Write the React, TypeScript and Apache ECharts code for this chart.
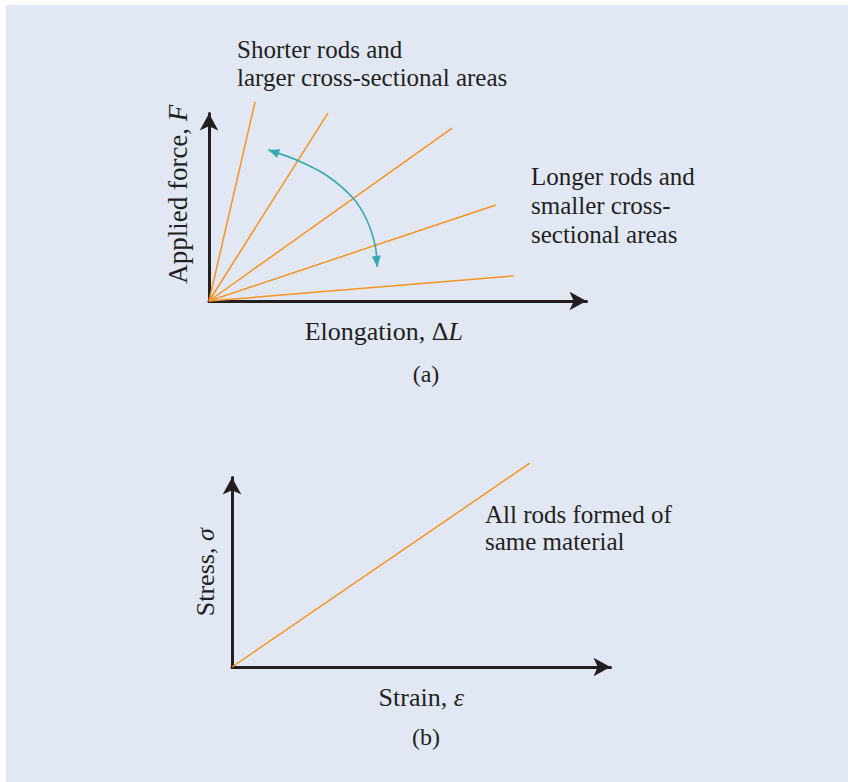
import React, { useEffect, useRef } from "react";
import * as echarts from "echarts";

// ---- Data (arbitrary units; x 0..10, y 0..5) ----
// (a) Applied force vs elongation: end points of five rods' lines (all start at origin)
const rodEndX = [1.22, 3.15, 6.44, 7.6, 8.08];
const rodEndY = [5.31, 5.01, 4.61, 2.56, 0.67];
// curved double-headed arrow across the rod lines
const arcX = [1.57, 2.32, 3.1, 3.82, 4.18, 4.4, 4.46];
const arcY = [4.03, 3.76, 3.36, 2.74, 2.16, 1.49, 0.91];
// (b) Stress vs strain: single line for all rods
const strainX = [0, 7.87];
const stressY = [0, 5.38];

const xMax = 10;
const yMax = 5;

const FONT = "Liberation Serif";
const INK = "#231f20";
const ORANGE = "#f7931e";
const TEAL = "#35a8b0";
const BG = "#e1e8f4";

function axisCommon() {
  return {
    min: 0,
    axisLine: {
      show: true,
      symbol: ["none", "arrow"],
      symbolSize: [14, 17],
      lineStyle: { color: INK, width: 3 },
    },
    axisTick: { show: false },
    axisLabel: { show: false },
    splitLine: { show: false },
  };
}

const makeName = (size: number) => ({
  fontFamily: FONT,
  fontSize: size,
  color: INK,
  rich: {
    i: { fontFamily: FONT, fontSize: size, fontStyle: "italic", color: INK },
  },
});

export default function App() {
  const ref = useRef<HTMLDivElement>(null);
  useEffect(() => {
    if (!ref.current) return;
    const chart = echarts.init(ref.current, undefined, { renderer: "svg" });

    const rodSeries = rodEndX.map((x, i) => ({
      type: "line",
      xAxisIndex: 0,
      yAxisIndex: 0,
      data: [
        [0, 0],
        [x, rodEndY[i]],
      ],
      symbol: "none",
      clip: false,
      lineStyle: { color: ORANGE, width: 1.5 },
      z: 1,
    }));

    const arrowHead = (tip: number[], from: number[]) => {
      const dx = tip[0] - from[0];
      const dy = tip[1] - from[1];
      const len = Math.hypot(dx, dy) || 1;
      const ux = dx / len;
      const uy = dy / len;
      const L = 11;
      const W = 4.5;
      const bx = tip[0] - ux * L;
      const by = tip[1] - uy * L;
      return [
        [tip[0], tip[1]],
        [bx - uy * W, by + ux * W],
        [bx + uy * W, by - ux * W],
      ];
    };

    const textStyle = (text: string, lineHeight: number, size = 25) => ({
      text,
      fontFamily: FONT,
      fontSize: size,
      lineHeight,
      fill: INK,
    });

    const option: any = {
      animation: false,
      backgroundColor: "#ffffff",
      textStyle: { fontFamily: FONT },
      graphic: [
        {
          type: "rect",
          left: 6,
          top: 5,
          shape: { width: 842, height: 777 },
          style: { fill: BG },
          z: -10,
          silent: true,
        },
        {
          type: "text",
          left: 237,
          top: 35,
          style: textStyle("Shorter rods and\nlarger cross-sectional areas", 28),
        },
        {
          type: "text",
          left: 531,
          top: 162,
          style: textStyle("Longer rods and\nsmaller cross-\nsectional areas", 29),
        },
        {
          type: "text",
          left: 485,
          top: 501,
          style: textStyle("All rods formed of\nsame material", 27),
        },
        {
          type: "text",
          x: 426,
          y: 362,
          style: {
            ...textStyle("(a)", 24, 24),
            align: "center",
            verticalAlign: "top",
          },
        },
        {
          type: "text",
          x: 426,
          y: 725,
          style: {
            ...textStyle("(b)", 24, 24),
            align: "center",
            verticalAlign: "top",
          },
        },
      ],
      grid: [
        { left: 209, top: 113.5, width: 377.5, height: 187.5, outerBoundsMode: "none" },
        { left: 232, top: 477.5, width: 378.5, height: 189.5, outerBoundsMode: "none" },
      ],
      xAxis: [
        {
          ...axisCommon(),
          type: "value",
          gridIndex: 0,
          max: xMax,
          name: "Elongation, Δ{i|L}",
          nameLocation: "middle",
          nameGap: 17,
          nameTextStyle: { ...makeName(26), padding: [0, 28, 0, 0] },
        },
        {
          ...axisCommon(),
          type: "value",
          gridIndex: 1,
          max: xMax,
          name: "Strain, {i|ε}",
          nameLocation: "middle",
          nameGap: 17,
          nameTextStyle: makeName(26),
        },
      ],
      yAxis: [
        {
          ...axisCommon(),
          type: "value",
          gridIndex: 0,
          max: yMax,
          name: "Applied force, {i|F}",
          nameLocation: "middle",
          nameRotate: 90,
          nameGap: 18,
          nameTextStyle: { ...makeName(27), padding: [0, 0, 0, 26] },
        },
        {
          ...axisCommon(),
          type: "value",
          gridIndex: 1,
          max: yMax,
          name: "Stress, {i|σ}",
          nameLocation: "middle",
          nameRotate: 90,
          nameGap: 14,
          nameTextStyle: makeName(26),
        },
      ],
      series: [
        ...rodSeries,
        {
          type: "custom",
          xAxisIndex: 0,
          yAxisIndex: 0,
          data: [[arcX[0], arcY[0]]],
          clip: false,
          z: 2,
          renderItem: (params: any, api: any) => {
            if (params.dataIndex !== 0) return null;
            const pts = arcX.map((x, i) => api.coord([x, arcY[i]]));
            const n = pts.length;
            return {
              type: "group",
              children: [
                {
                  type: "polyline",
                  shape: { points: pts, smooth: 0.3 },
                  style: { stroke: TEAL, lineWidth: 1.6, fill: null },
                },
                {
                  type: "polygon",
                  shape: { points: arrowHead(pts[0], pts[1]) },
                  style: { fill: TEAL },
                },
                {
                  type: "polygon",
                  shape: { points: arrowHead(pts[n - 1], pts[n - 2]) },
                  style: { fill: TEAL },
                },
              ],
            };
          },
        },
        {
          type: "line",
          xAxisIndex: 1,
          yAxisIndex: 1,
          data: strainX.map((x, i) => [x, stressY[i]]),
          symbol: "none",
          clip: false,
          lineStyle: { color: ORANGE, width: 1.5 },
          z: 1,
        },
      ],
    };

    chart.setOption(option);
    return () => chart.dispose();
  }, []);

  return (
    <div
      ref={ref}
      style={{ position: "fixed", left: 0, top: 0, width: 848, height: 782 }}
    />
  );
}
